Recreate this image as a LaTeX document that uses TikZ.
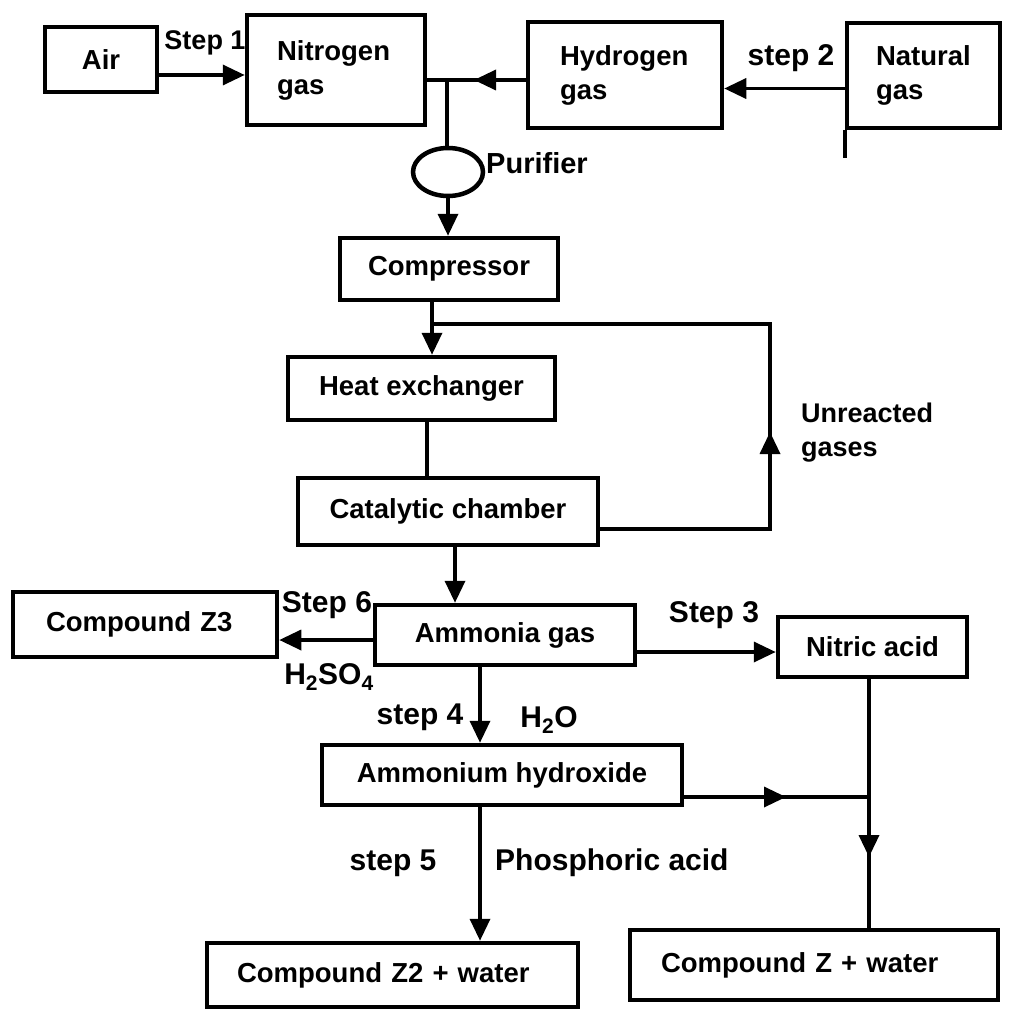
\documentclass[tikz,border=0pt]{standalone}
\usepackage{fontspec}
\setmainfont{Liberation Sans}
\usetikzlibrary{arrows.meta,shapes.geometric}
\begin{document}
\begin{tikzpicture}[x=1pt,y=-1pt,
  boxnode/.style={draw, line width=4.5pt, inner sep=0pt, font=\fontsize{27.5}{34}\bfseries\selectfont},
  lbl/.style={inner sep=0pt, font=\fontsize{27}{34}\bfseries\selectfont},
  biglbl/.style={inner sep=0pt, font=\fontsize{30}{36}\bfseries\selectfont},
  conn/.style={line width=3.5pt},
  arrconn/.style={line width=3.5pt, -{Triangle[length=22pt,width=20pt]}}]
\useasboundingbox (0,0) rectangle (1016,1035);
% top row
\node[boxnode, minimum width=112pt, minimum height=65pt] (air) at (101,59.5) {Air};
\node[boxnode, minimum height=110pt, inner xsep=30pt, text width=118pt, align=left] (nitro) at (336,70) {Nitrogen\\gas};
\node[boxnode, minimum height=106pt, inner xsep=32pt, text width=130pt, align=left] (hydro) at (625,75) {Hydrogen\\gas};
\node[boxnode, minimum height=105pt, inner xsep=29pt, text width=95pt, align=left] (natgas) at (923.5,75.5) {Natural\\gas};
\draw[line width=4.5pt] (natgas.south west) -- ++(0,28);
\draw[arrconn] ([yshift=-15.5pt]air.east) -- ([yshift=-15.5pt]air.east -| nitro.west);
\node[lbl] (s1) at (205,43) {Step 1};
\draw[arrconn] ([yshift=-13pt]natgas.west) -- ([yshift=-13pt]natgas.west -| hydro.east);
\node[biglbl] (s2) at (791,58) {step 2};
\coordinate (j1) at (447,80);
\coordinate (h1) at (474,80);
\draw[conn] (hydro.west |- j1) -- (nitro.east |- j1);
\draw[arrconn] (hydro.west |- j1) -- (h1);
\node[draw, ellipse, line width=4.5pt, minimum width=70pt, minimum height=48pt, inner sep=0pt] (pur) at (448,172) {};
\draw[conn] (j1) -- (j1 |- pur.north);
\node[lbl, anchor=west, font=\fontsize{29}{34}\bfseries\selectfont] (purl) at (486,163) {Purifier};
% column
\node[boxnode, minimum width=218pt, minimum height=62pt] (comp) at (449,269) {Compressor};
\draw[arrconn] (pur.south) -- (pur.south |- comp.north);
\node[boxnode, minimum width=267pt, minimum height=63pt] (heat) at (421.5,388.5) {Heat exchanger};
\coordinate (j2) at (432,324);
\draw[arrconn] (comp.south -| j2) -- (heat.north -| j2);
\node[boxnode, minimum width=300pt, minimum height=67pt] (cat) at (448,511.5) {Catalytic chamber};
\draw[conn] ([xshift=5.5pt]heat.south) -- ([xshift=5.5pt]heat.south |- cat.north);
\coordinate (l1) at (770,529);
\coordinate (ltip) at (770,432);
\coordinate (l2) at (770,324);
\draw[conn] ([yshift=-17.5pt]cat.east) -- (l1) -- (l2) -- (j2);
\draw[arrconn] (l1) -- (ltip);
\node[lbl, anchor=west, align=left] (unr) at (801,433) {Unreacted\\gases};
% ammonia row
\node[boxnode, minimum width=260pt, minimum height=60pt] (amm) at (505,635) {Ammonia gas};
\draw[arrconn] ([xshift=7pt]cat.south) -- ([xshift=7pt]cat.south |- amm.north);
\node[boxnode, minimum height=65pt, inner xsep=33pt, text width=198pt, align=left] (z3) at (145,624.5) {Compound Z3};
\draw[arrconn] ([yshift=-5pt]amm.west) -- ([yshift=-5pt]amm.west -| z3.east);
\node[biglbl] (s6) at (327,605) {Step 6};
\node[biglbl] (h2so4) at (329,677) {H\textsubscript{2}SO\textsubscript{4}};
\node[boxnode, minimum width=189pt, minimum height=60pt] (nitric) at (872.5,647) {Nitric acid};
\draw[arrconn] ([yshift=-17pt]amm.east) -- ([yshift=-17pt]amm.east -| nitric.west);
\node[biglbl] (s3) at (714,615) {Step 3};
% ammonium
\node[boxnode, minimum width=360pt, minimum height=60pt] (amh) at (502,775) {Ammonium hydroxide};
\draw[arrconn] ([xshift=-25pt]amm.south) -- ([xshift=-25pt]amm.south |- amh.north);
\node[biglbl] (s4) at (420,717) {step 4};
\node[biglbl] (h2o) at (549,720) {H\textsubscript{2}O};
\coordinate (j3) at (869,797);
\coordinate (t3) at (786,797);
\coordinate (t4) at (869,857);
\node[boxnode, minimum height=70pt, inner xsep=31pt, text width=306pt, align=left] (cz) at (814,965) {Compound Z + water};
\draw[conn] (amh.east |- j3) -- (j3);
\draw[arrconn] (amh.east |- j3) -- (t3);
\draw[conn] (nitric.south -| j3) -- (j3 |- cz.north);
\draw[arrconn] (j3) -- (t4);
% bottom left
\node[boxnode, minimum height=64pt, inner xsep=30pt, text width=311pt, align=left] (cz2) at (392.5,975) {Compound Z2 + water};
\draw[arrconn] ([xshift=-22pt]amh.south) -- ([xshift=-22pt]amh.south |- cz2.north);
\node[biglbl] (s5) at (393,863) {step 5};
\node[biglbl, anchor=west] (pa) at (495,863) {Phosphoric acid};
\end{tikzpicture}
\end{document}
